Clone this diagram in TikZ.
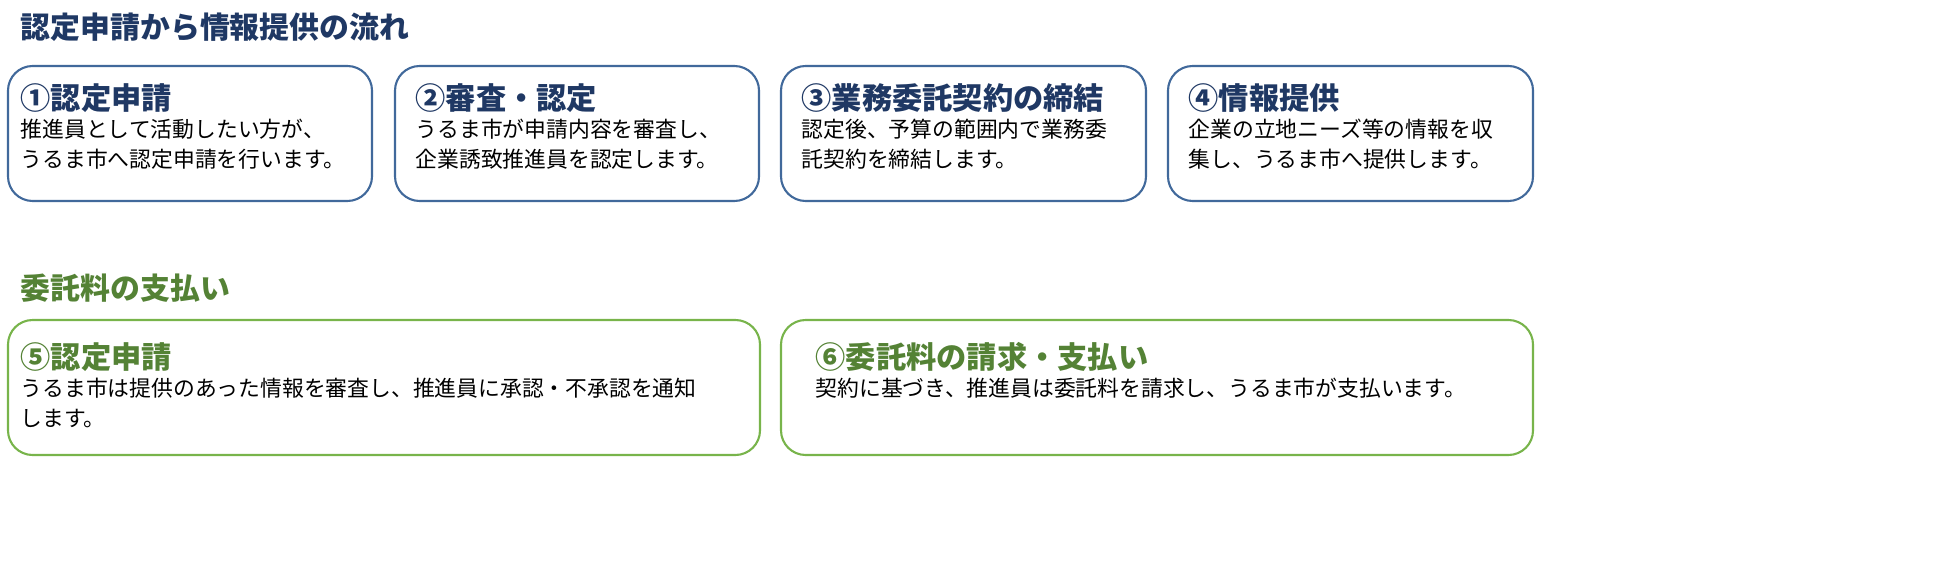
\documentclass[tikz,border=0pt]{standalone}
\usepackage{fontspec}
\setmainfont{Noto Sans CJK JP}
\definecolor{navy}{RGB}{31,56,100}
\definecolor{boxblue}{RGB}{65,105,155}
\definecolor{boxgreen}{RGB}{120,180,75}
\definecolor{txtgreen}{RGB}{84,130,53}
\tikzset{
  flowbox/.style={draw=boxblue,line width=0.6pt,rounded corners=7pt},
  paybox/.style={draw=boxgreen,line width=0.6pt,rounded corners=7pt},
  sectitle/.style={anchor=west,inner sep=0pt,font=\fontsize{8.5pt}{10pt}\selectfont\bfseries},
  boxhead/.style={anchor=west,inner sep=0pt,font=\fontsize{8.6pt}{10pt}\selectfont\bfseries},
  boxtext/.style={anchor=north west,inner sep=0pt,align=left,font=\fontsize{6.2pt}{8.6pt}\selectfont}
}
\begin{document}
\begin{tikzpicture}[x=0.01cm,y=-0.01cm]
\useasboundingbox (0,0) rectangle (1946,567);
% flow section
\node[sectitle,text=navy] (flowtitle) at (20,27) {認定申請から情報提供の流れ};
\draw[flowbox] (8,66) rectangle (372,201);
\draw[flowbox] (395,66) rectangle (759,201);
\draw[flowbox] (781,66) rectangle (1146,201);
\draw[flowbox] (1168,66) rectangle (1533,201);
\node[boxhead,text=navy] (headA) at (20,98) {①認定申請};
\node[boxtext] (textA) at (20,118) {推進員として活動したい方が、\\うるま市へ認定申請を行います。};
\node[boxhead,text=navy] (headB) at (415,98) {②審査・認定};
\node[boxtext] (textB) at (415,118) {うるま市が申請内容を審査し、\\企業誘致推進員を認定します。};
\node[boxhead,text=navy] (headC) at (801,98) {③業務委託契約の締結};
\node[boxtext] (textC) at (801,118) {認定後、予算の範囲内で業務委\\託契約を締結します。};
\node[boxhead,text=navy] (headD) at (1188,98) {④情報提供};
\node[boxtext] (textD) at (1188,118) {企業の立地ニーズ等の情報を収\\集し、うるま市へ提供します。};
% payment section
\node[sectitle,text=txtgreen] (paytitle) at (20,288) {委託料の支払い};
\draw[paybox] (8,320) rectangle (760,455);
\draw[paybox] (781,320) rectangle (1533,455);
\node[boxhead,text=txtgreen] (headE) at (20,357) {⑤認定申請};
\node[boxtext] (textE) at (20,377) {うるま市は提供のあった情報を審査し、推進員に承認・不承認を通知\\します。};
\node[boxhead,text=txtgreen] (headF) at (815,357) {⑥委託料の請求・支払い};
\node[boxtext] (textF) at (815,377) {契約に基づき、推進員は委託料を請求し、うるま市が支払います。};
\end{tikzpicture}
\end{document}
